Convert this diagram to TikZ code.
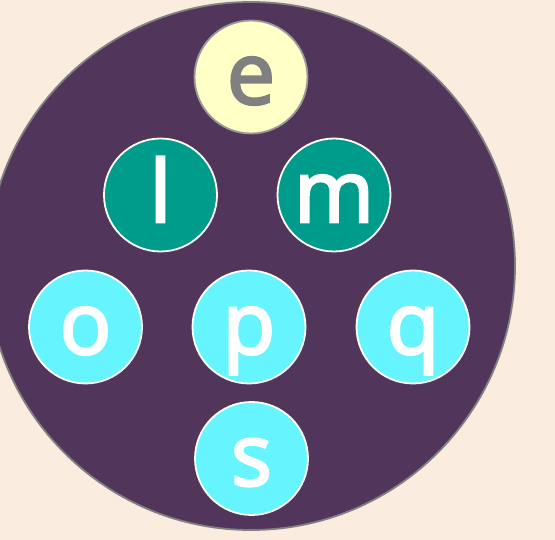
\documentclass[tikz,border=0pt]{standalone}
\usepackage{fontspec}
\setmainfont{Open Sans}[FakeBold=3]
\usepackage{xcolor}
\definecolor{bgCream}{HTML}{FAEDDF}
\definecolor{discPurple}{HTML}{52355B}
\definecolor{ballTeal}{HTML}{009C8B}
\definecolor{ballCyan}{HTML}{66F5FF}
\definecolor{ballCream}{HTML}{FFFFC6}
\definecolor{rimGray}{HTML}{808080}

\begin{document}
\begin{tikzpicture}[x=1pt,y=-1pt,
    ball/.style={circle,draw=white,line width=1.8pt,minimum size=113pt,
      inner sep=0pt,text=white,text height=54pt,text depth=0pt,
      font=\fontsize{86}{86}\selectfont},
    tealball/.style={ball,fill=ballTeal},
    cyanball/.style={ball,fill=ballCyan},
    topball/.style={ball,fill=ballCream,draw=rimGray!80,text=rimGray}]
      \useasboundingbox[fill=bgCream] (0,0) rectangle (555,540);
      \clip (0,0) rectangle (555,540);
      \node[circle,fill=discPurple,draw=rimGray,line width=1.8pt,
        minimum size=528pt] (disc) at (251,266) {};

      \node[topball] (e) at (251,77) {e};
      \node[tealball] (l) at (160.5,195) {l};
      \node[tealball] (m) at (334,195) {m};
      \node[cyanball] (o) at (85.5,327) {o};
      \node[cyanball] (p) at (249,327) {p};
      \node[cyanball] (q) at (413,327) {q};
      \node[cyanball] (s) at (251.5,458.5) {s};
    \end{tikzpicture}
\end{document}
